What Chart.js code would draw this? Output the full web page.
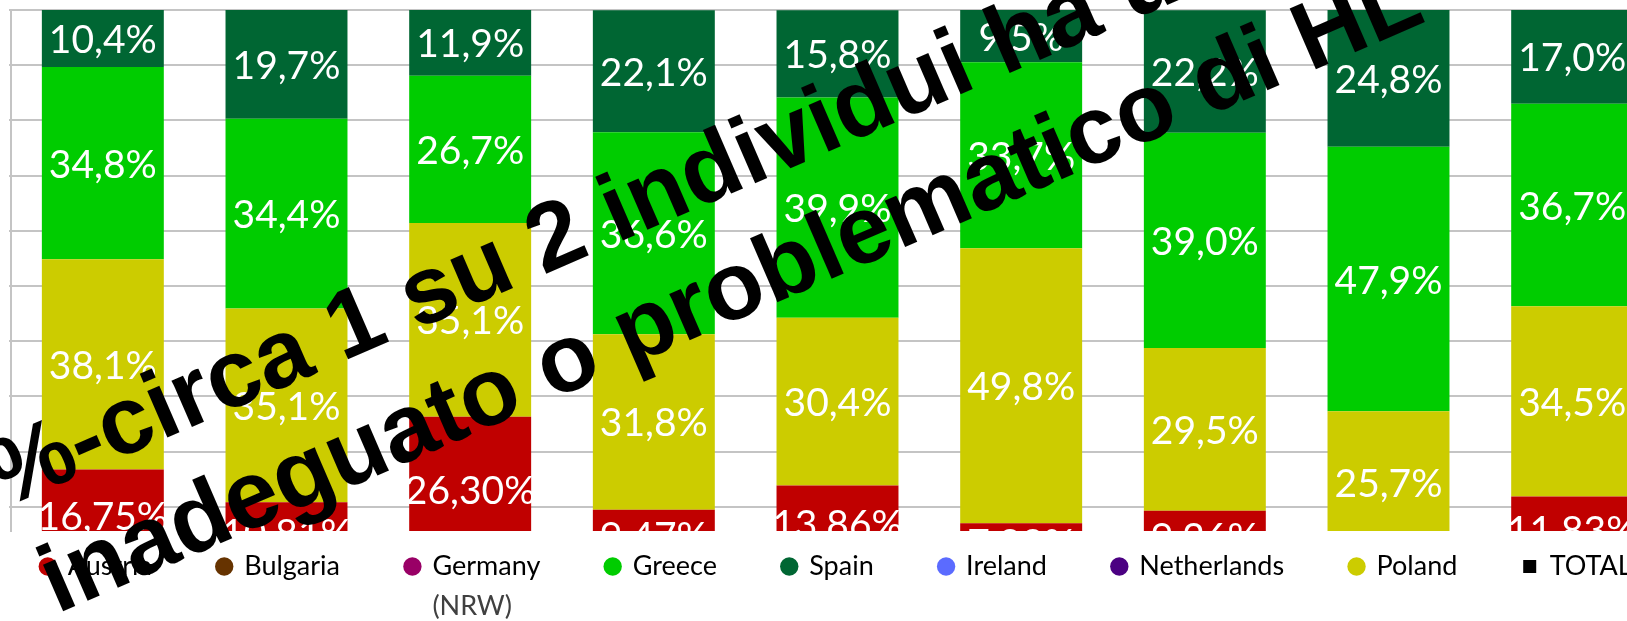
<!DOCTYPE html>
<html>
<head>
<meta charset="utf-8">
<script src="https://cdn.jsdelivr.net/npm/chart.js@4.4.1/dist/chart.umd.min.js"></script>
<style>
  html, body { margin: 0; padding: 0; background: #fff; overflow: hidden; }
  #wrap { position: absolute; left: 0; top: 0; width: 1672px; height: 621px; }
</style>
</head>
<body>
<div id="wrap"><canvas id="hl-chart" width="1672" height="621"></canvas></div>
<script>
// data (percent of respondents per HL level)
const countries   = ['Austria', 'Bulgaria', 'Germany (NRW)', 'Greece', 'Spain', 'Ireland', 'Netherlands', 'Poland', 'TOTAL'];
const inadequate  = [16.75, 10.81, 26.30, 9.47, 13.86, 7.02, 9.26, 1.6, 11.83];
const problematic = [38.1, 35.1, 35.1, 31.8, 30.4, 49.8, 29.5, 25.7, 34.5];
const sufficient  = [34.8, 34.4, 26.7, 36.6, 39.9, 33.7, 39.0, 47.9, 36.7];
const excellent   = [10.4, 19.7, 11.9, 22.1, 15.8, 9.5, 22.2, 24.8, 17.0];
const countryColors = ['#c00000', '#663300', '#990066', '#00cc00', '#006633', '#5b6bff', '#4b0082', '#cccc00', '#000000'];
const overlayLines = ['%-circa 1 su 2 individui ha un', 'inadeguato o problematico di HL'];

const LABEL_FONT = '39px Lato';
const LEGEND_SIZE = 27;
const LEGEND_GAP = '\u2003\u2002\u2009\u2009\u2009';

const segmentLabels = {
  id: 'segmentLabels',
  afterDatasetsDraw(chart) {
    const { ctx, chartArea } = chart;
    ctx.save();
    ctx.beginPath();
    ctx.rect(chartArea.left, chartArea.top, chartArea.right - chartArea.left, chartArea.bottom - chartArea.top);
    ctx.clip();
    ctx.font = LABEL_FONT;
    ctx.fillStyle = '#ffffff';
    ctx.textAlign = 'center';
    ctx.textBaseline = 'middle';
    chart.data.datasets.forEach((ds, i) => {
      chart.getDatasetMeta(i).data.forEach((bar, j) => {
        const { x, y, base } = bar.getProps(['x', 'y', 'base'], true);
        const txt = ds.data[j].toFixed(ds.decimals).replace('.', ',') + '%';
        ctx.fillText(txt, x, (y + base) / 2 + 2);
      });
    });
    ctx.restore();
  }
};

// second line of wrapped legend names + the slanted note on top
const extras = {
  id: 'extras',
  afterDraw(chart) {
    const { ctx } = chart;
    const boxes = chart.legend.legendHitBoxes;
    ctx.save();
    ctx.font = LEGEND_SIZE + 'px Lato';
    ctx.fillStyle = '#404040';
    ctx.textAlign = 'left';
    ctx.textBaseline = 'middle';
    countries.forEach((c, i) => {
      const parts = c.split(' (');
      if (parts.length > 1 && boxes[i]) {
        const hb = boxes[i];
        ctx.fillText('(' + parts[1], hb.left + 13 + LEGEND_SIZE / 2, hb.top + hb.height / 2 + 40);
      }
    });
    ctx.restore();

    ctx.save();
    ctx.translate(57, 614);
    ctx.rotate(-23.4 * Math.PI / 180);
    ctx.font = 'bold 96px "Liberation Sans"';
    ctx.fillStyle = '#000000';
    ctx.textBaseline = 'alphabetic';
    ctx.fillText(overlayLines[0], -6, -118);
    ctx.fillText(overlayLines[1], 0, 0);
    ctx.restore();
  }
};

new Chart(document.getElementById('hl-chart'), {
  type: 'bar',
  data: {
    labels: countries,
    datasets: [
      { label: 'Inadeguato',   data: inadequate,  backgroundColor: '#c00000', decimals: 2 },
      { label: 'Problematico', data: problematic, backgroundColor: '#cccc00', decimals: 1 },
      { label: 'Sufficiente',  data: sufficient,  backgroundColor: '#00cc00', decimals: 1 },
      { label: 'Eccellente',   data: excellent,   backgroundColor: '#006633', decimals: 1 },
    ].map(ds => ({ ...ds, borderWidth: 0, clip: 0, barPercentage: 0.664, categoryPercentage: 1 })),
  },
  options: {
    responsive: false,
    animation: false,
    layout: { padding: { left: 9, right: 8, top: 10, bottom: 31 } },
    scales: {
      x: { stacked: true, display: false },
      y: {
        stacked: true,
        min: 5.6,
        max: 100,
        ticks: { display: false, stepSize: 10, includeBounds: false },
        grid: { color: '#c4c4c4', lineWidth: 2, drawTicks: true, tickLength: 2 },
        border: { display: true, color: '#c4c4c4', width: 2 },
      },
    },
    plugins: {
      tooltip: { enabled: false },
      legend: {
        position: 'bottom',
        labels: {
          usePointStyle: true,
          boxWidth: 13,
          boxHeight: 13,
          padding: 22,
          color: '#404040',
          font: { family: 'Lato', size: LEGEND_SIZE },
          generateLabels: () => countries.map((c, i) => ({
            text: c.split(' (')[0] + (i < countries.length - 1 ? LEGEND_GAP : ''),
            fillStyle: countryColors[i],
            strokeStyle: countryColors[i],
            lineWidth: 0,
            pointStyle: c === 'TOTAL' ? 'rect' : 'circle',
            hidden: false,
          })),
        },
      },
    },
  },
  plugins: [segmentLabels, extras],
});
</script>
</body>
</html>
